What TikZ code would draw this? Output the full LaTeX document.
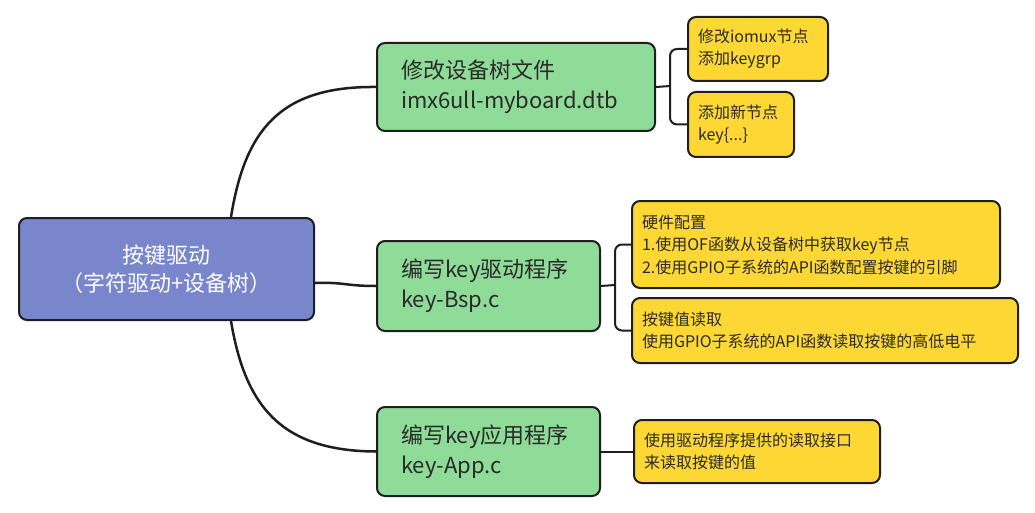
\documentclass[tikz,border=0pt]{standalone}
\usepackage{fontspec}
\setmainfont{Noto Sans CJK SC}
\begin{document}
\begin{tikzpicture}[x=1pt,y=-1pt,
  every node/.style={inner ysep=0pt},
  box/.style={draw=bordercol, line width=2pt, rounded corners=8pt, anchor=north west, align=left, text=textcol},
  rootbox/.style={box, fill=rootcol, text=white, align=center, font=\fontsize{22}{28}\selectfont},
  greenbox/.style={box, fill=greencol, inner xsep=24pt, font=\fontsize{22}{30}\selectfont},
  yellowbox/.style={box, fill=yellowcol, inner xsep=10pt, font=\fontsize{16}{22.5}\selectfont},
  conn/.style={draw=bordercol, line width=2.5pt},
  brk/.style={draw=bordercol, line width=2pt, rounded corners=7pt}
]
\definecolor{rootcol}{HTML}{7986CB}
\definecolor{greencol}{HTML}{8EDC98}
\definecolor{yellowcol}{HTML}{FDD835}
\definecolor{bordercol}{HTML}{1E1E1E}
\definecolor{textcol}{HTML}{2A2A2A}
\useasboundingbox (0,0) rectangle (1035,513);

\node[rootbox, text width=275pt, inner xsep=10pt, minimum height=102pt] (root) at (18,217) {按键驱动\\（字符驱动+设备树）};

\node[greenbox, text width=230pt, minimum height=88pt] (g1) at (376,42) {修改设备树文件\\imx6ull-myboard.dtb};
\node[greenbox, text width=175pt, minimum height=90pt] (g2) at (376,240) {编写key驱动程序\\key-Bsp.c};
\node[greenbox, text width=175pt, minimum height=89pt] (g3) at (376,406) {编写key应用程序\\key-App.c};

\node[yellowbox, text width=120pt, minimum height=64pt] (y1) at (687,16) {修改iomux节点\\添加keygrp};
\node[yellowbox, text width=86pt, minimum height=65pt] (y2) at (687,91) {添加新节点\\key\{...\}};
\node[yellowbox, text width=348pt, minimum height=87pt] (y3) at (631,200) {硬件配置\\1.使用OF函数从设备树中获取key节点\\2.使用GPIO子系统的API函数配置按键的引脚};
\node[yellowbox, text width=366pt, minimum height=65pt] (y4) at (631,297) {按键值读取\\使用GPIO子系统的API函数读取按键的高低电平};
\node[yellowbox, text width=226pt, minimum height=63pt] (y5) at (633,419) {使用驱动程序提供的读取接口\\来读取按键的值};

% root to level 1
\draw[conn] ([xshift=64.5pt]root.north) .. controls (245,130) and (280,86) .. (g1.west);
\draw[conn] ([yshift=-14pt]root.east) .. controls (345,282) and (345,286) .. (g2.west);
\draw[conn] ([xshift=64.5pt]root.south) .. controls (245,405) and (280,451) .. (g3.west);

% brackets
\draw[brk] (g1.east) -- (670,86);
\draw[brk] (y1.west) -| (670,86) |- (y2.west);
\draw[brk] (g2.east) -- (615,285);
\draw[brk] (y3.west) -| (615,285) |- (y4.west);
\draw[conn, line width=2pt] (g3.east) -- (y5.west);
\end{tikzpicture}
\end{document}
